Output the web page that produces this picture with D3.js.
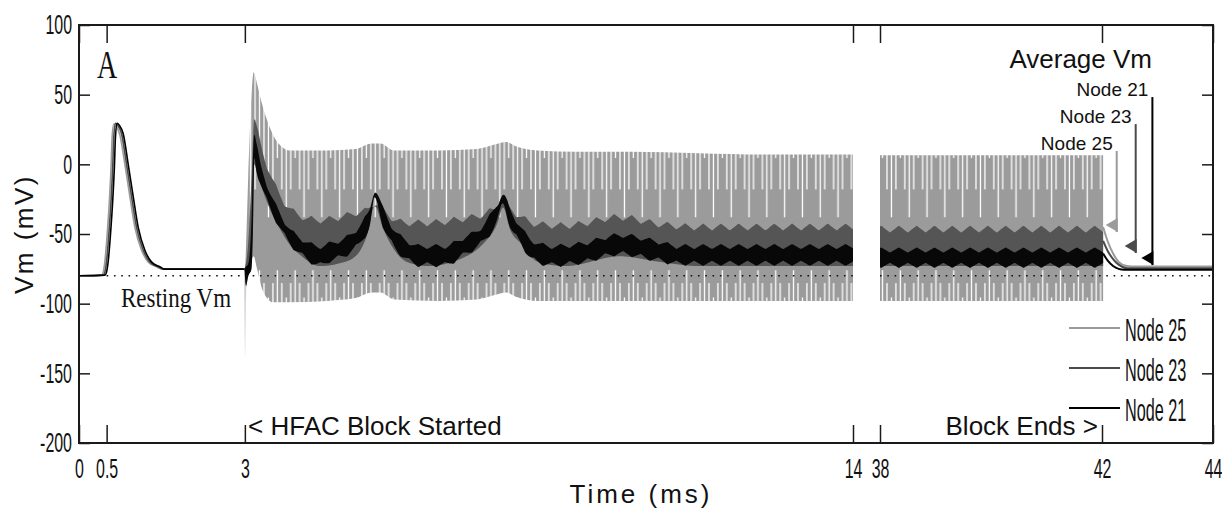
<!DOCTYPE html>
<html>
<head>
<meta charset="utf-8">
<script src="https://cdn.jsdelivr.net/npm/d3@7"></script>
<style>
body{margin:0;background:#fff;}
svg{display:block;}
text{font-family:"Liberation Sans",Arial,sans-serif;fill:#111;}
</style>
</head>
<body>
<div id="corpo"></div>
<script>
// ---- data ----
var restingVm = -80;
var yTicks = [-200, -150, -100, -50, 0, 50, 100];
var xTicksA = [0, 0.5, 3, 14];
var xTicksB = [38, 42, 44];
var nodeNames = ["Node 25", "Node 23", "Node 21"];

// single action potential before the block  [t (ms), Vm]
var ap25 = [[0,-80],[0.41,-79.5],[0.44,-77],[0.47,-69],[0.51,-50],[0.55,-26],[0.58,-2],[0.6,20],[0.63,29],[0.67,27.5],[0.74,21],[0.83,0],[0.92,-23],[1.01,-45],[1.13,-61.5],[1.25,-70],[1.4,-73.5],[1.49,-75],[3.0,-75]];
var ap23 = [[0,-80],[0.44,-79.5],[0.47,-77],[0.5,-69],[0.54,-50],[0.58,-26],[0.61,-2],[0.63,20],[0.66,29.5],[0.7,28],[0.77,22],[0.86,0],[0.95,-23],[1.04,-45],[1.16,-61.5],[1.28,-70],[1.43,-73.5],[1.52,-75.2],[3.0,-75.2]];
var ap21 = [[0,-80],[0.47,-79.5],[0.5,-77],[0.53,-69],[0.57,-50],[0.61,-26],[0.64,-2],[0.66,20],[0.69,29.5],[0.73,28],[0.8,22],[0.89,0],[0.98,-23],[1.07,-45],[1.19,-61.5],[1.31,-70],[1.46,-73.5],[1.55,-75.2],[3.0,-75.2]];

// HFAC envelopes, first window  [t, upper, lower]
var hf25 = [[2.995,-75,-76],[3.005,-74,-140],[3.02,-60,-95],[3.06,-10,-78],[3.11,40,-70],[3.16,66,-66],[3.22,58,-75],[3.3,45,-88],[3.4,32,-96],[3.5,22,-99],[3.63,14,-99],[3.8,10,-99],[4.5,10,-98],[5.0,11,-96],[5.3,15,-92],[5.45,15,-92],[5.7,10,-97],[6.5,10,-98],[7.2,11,-97],[7.5,14,-94],[7.73,16,-92],[7.9,13,-95],[8.3,10,-98],[9.0,9,-98],[10.0,9,-98],[11.2,8,-98],[12.5,7,-98],[14.0,7,-98]];
var hf23 = [[2.995,-75,-76],[3.05,-60,-80],[3.12,-10,-70],[3.17,32,0],[3.22,25,-6],[3.3,12,-16],[3.45,-6,-32],[3.63,-22,-46],[3.82,-32,-58],[4.0,-37,-65],[4.36,-40,-73],[4.72,-38,-71],[5.0,-35,-66],[5.2,-33,-52],[5.35,-28,-30],[5.5,-33,-46],[5.68,-39,-60],[5.93,-42,-70],[6.3,-42,-73],[6.95,-39,-67],[7.31,-36,-57],[7.56,-31,-43],[7.67,-28,-31],[7.8,-32,-47],[8.0,-38,-57],[8.3,-43,-70],[8.8,-44,-73],[9.78,-38,-66],[10.5,-43,-70],[11.2,-45,-73],[14.0,-45,-73]];
var hf21 = [[2.995,-75,-76],[3.02,-73,-88],[3.06,-70,-82],[3.12,-40,-76],[3.15,10,-40],[3.17,21,5],[3.21,14,-4],[3.27,2,-12],[3.36,-10,-22],[3.45,-20,-31],[3.63,-35,-45],[3.82,-47,-57],[4.0,-53,-64],[4.36,-59,-72],[4.54,-57,-69],[4.9,-51,-63],[5.14,-41,-53],[5.26,-32,-44],[5.35,-19,-25],[5.5,-32,-44],[5.68,-46,-58],[5.93,-55,-68],[6.17,-59,-72],[6.6,-59,-72],[6.95,-53,-65],[7.31,-44,-55],[7.56,-29,-41],[7.67,-22,-28],[7.8,-33,-45],[7.97,-44,-55],[8.2,-55,-68],[8.57,-59,-72],[9.1,-57,-70],[9.78,-51,-64],[10.4,-55,-68],[10.87,-59,-71],[12.0,-59,-71],[14.0,-59,-71]];

// HFAC envelopes, second window
var hf25b = [[38,6.5,-98],[42.02,6.5,-98]];
var hf23b = [[38,-46.5,-73],[42.02,-46.5,-73]];
var hf21b = [[38,-61.5,-72.5],[42.02,-61.5,-72.5]];

// recovery after the block ends
var tail25 = [[42.02,-45],[42.1,-55],[42.2,-64],[42.3,-70],[42.45,-73],[42.6,-73.4],[44,-73.4]];
var tail23 = [[42.02,-55],[42.1,-62],[42.2,-68],[42.3,-72],[42.45,-74.5],[44,-74.5]];
var tail21 = [[42.02,-64],[42.1,-69],[42.2,-73],[42.3,-75],[42.4,-75.6],[44,-75.6]];

var colors = {"Node 25": "#9b9b9b", "Node 23": "#4a4a4a", "Node 21": "#000"};

// ---- drawing ----
var width = 1222, height = 508;
var svg = d3.select("#corpo").append("svg")
    .attr("width", width)
    .attr("height", height);

var x1 = d3.scaleLinear().domain([0, 14]).range([79, 853]);
var x2 = d3.scaleLinear().domain([38, 44]).range([880, 1213]);
var y = d3.scaleLinear().domain([-200, 100]).range([443, 25]);

function band(x){
    return d3.area()
        .x(function(d){ return x(d[0]); })
        .y0(function(d){ return y(d[2]); })
        .y1(function(d){ return y(d[1]); })
        .curve(d3.curveMonotoneX);
}
function lineOf(x, col){
    return d3.line()
        .x(function(d){ return x(d[0]); })
        .y(function(d){ return y(d[col]); })
        .curve(d3.curveMonotoneX);
}

// the oscillation is aliased into a beat pattern; mimic it as texture
var period = 17.8;
function tri(px){
    var u = px / period - Math.floor(px / period);
    return 1 - 4 * Math.abs(u - 0.5);
}
// walk along an envelope curve and push it up/down with the beat texture
function edge(x, data, col, amp){
    var tmp = svg.append("path").attr("d", lineOf(x, col)(data)).attr("fill", "none");
    var node = tmp.node(), L = node.getTotalLength(), pts = [];
    for (var s = 0; s < L; s += 1){
        var q = node.getPointAtLength(s);
        pts.push([q.x, q.y + amp * tri(q.x)]);
    }
    var e = node.getPointAtLength(L);
    pts.push([e.x, e.y + amp * tri(e.x)]);
    tmp.remove();
    return pts;
}
function polygon(upper, lower){
    return "M" + upper.concat(lower.slice().reverse()).map(function(p){
        return p[0].toFixed(2) + "," + p[1].toFixed(2);
    }).join("L") + "Z";
}

// stripe texture for node 25
var defs = svg.append("defs");
var pat = defs.append("pattern")
    .attr("id", "stripes")
    .attr("patternUnits", "userSpaceOnUse")
    .attr("width", period)
    .attr("height", height);
pat.append("rect").attr("width", period).attr("height", height).attr("fill", colors["Node 25"]);
var fr = [1.0, 0.6, 0.15, 0.6];
fr.forEach(function(f, i){
    var xx = 0.8 + i * period / 4;
    pat.append("rect").attr("x", xx).attr("y", 0).attr("width", 1.3)
        .attr("height", y(12) + f * (y(-38) - y(12)))
        .attr("fill", "#fff");
    var fb = fr[(i + 2) % 4];
    var top = y(-99) - fb * (y(-99) - y(-76));
    pat.append("rect").attr("x", xx).attr("y", top).attr("width", 1.3)
        .attr("height", height - top)
        .attr("fill", "#fff");
});

// action potential
[[ap25, "Node 25"], [ap23, "Node 23"], [ap21, "Node 21"]].forEach(function(p){
    svg.append("path")
        .attr("d", lineOf(x1, 1)(p[0]))
        .attr("fill", "none")
        .attr("stroke", colors[p[1]])
        .attr("stroke-width", 1.6);
});

// HFAC bands
function drawBands(x, a, b, c){
    svg.append("path").attr("d", band(x)(a)).attr("fill", "url(#stripes)");
    svg.append("path")
        .attr("d", polygon(edge(x, b, 1, -3.5), edge(x, b, 2, 0)))
        .attr("fill", "#555");
    svg.append("path")
        .attr("d", polygon(edge(x, c, 1, -2.6), edge(x, c, 2, 2.6)))
        .attr("fill", "#080808");
}
drawBands(x1, hf25, hf23, hf21);
drawBands(x2, hf25b, hf23b, hf21b);

// recovery
[[tail25, "Node 25"], [tail23, "Node 23"], [tail21, "Node 21"]].forEach(function(p){
    svg.append("path")
        .attr("d", lineOf(x2, 1)(p[0]))
        .attr("fill", "none")
        .attr("stroke", colors[p[1]])
        .attr("stroke-width", 2);
});

// resting potential
[[x1, [0.5, 14]], [x2, [38, 44]]].forEach(function(s){
    svg.append("line")
        .attr("x1", s[0](s[1][0])).attr("x2", s[0](s[1][1]))
        .attr("y1", y(restingVm)).attr("y2", y(restingVm))
        .attr("stroke", "#111")
        .attr("stroke-width", 1.6)
        .attr("stroke-dasharray", "1.6,5.7");
});

// axes
var narrow = 0.57;
function styleAxis(g){
    g.select(".domain").remove();
    g.selectAll(".tick line").attr("stroke", "#1a1a1a").attr("stroke-width", 1.5);
    g.selectAll("text").attr("font-size", 28).attr("fill", "#111")
        .style("font-family", '"Liberation Sans", Arial, sans-serif');
}
var fmt = function(d){ return String(d); };

var gl = svg.append("g").attr("transform", "translate(79,0)")
    .call(d3.axisLeft(y).tickValues(yTicks).tickSize(-11).tickFormat(fmt));
styleAxis(gl);
gl.selectAll("text").attr("x", 0).attr("transform", "translate(-7,0) scale(" + narrow + ",1)");

svg.append("g").attr("transform", "translate(1213,0)")
    .call(d3.axisRight(y).tickValues(yTicks).tickSize(-11).tickFormat(""))
    .call(styleAxis);

[[x1, xTicksA], [x2, xTicksB]].forEach(function(s){
    var gb = svg.append("g").attr("transform", "translate(0,443)")
        .call(d3.axisBottom(s[0]).tickValues(s[1]).tickSize(-18).tickPadding(15).tickFormat(fmt));
    styleAxis(gb);
    gb.selectAll("text").attr("transform", "scale(" + narrow + ",1)");
    svg.append("g").attr("transform", "translate(0,25)")
        .call(d3.axisTop(s[0]).tickValues(s[1]).tickSize(-18).tickFormat(""))
        .call(styleAxis);
});

svg.append("rect")
    .attr("x", 79).attr("y", 25)
    .attr("width", 1213 - 79).attr("height", 443 - 25)
    .attr("fill", "none")
    .attr("stroke", "#1a1a1a")
    .attr("stroke-width", 2);

// axis titles
svg.append("text")
    .attr("x", 641).attr("y", 503)
    .attr("text-anchor", "middle")
    .attr("font-size", 26)
    .attr("letter-spacing", 3)
    .text("Time (ms)");
svg.append("text")
    .attr("transform", "translate(33,234) rotate(-90)")
    .attr("text-anchor", "middle")
    .attr("font-size", 26)
    .attr("letter-spacing", 2.5)
    .text("Vm (mV)");

// annotations
svg.append("text")
    .attr("transform", "translate(97,78) scale(0.7,1)")
    .attr("font-size", 40)
    .style("font-family", '"Liberation Serif", "Times New Roman", serif')
    .text("A");
svg.append("text")
    .attr("transform", "translate(121,307) scale(1,1.15)")
    .attr("font-size", 23)
    .style("font-family", '"Liberation Serif", "Times New Roman", serif')
    .text("Resting Vm");
svg.append("text")
    .attr("x", 248).attr("y", 435)
    .attr("font-size", 26)
    .text("< HFAC Block Started");
svg.append("text")
    .attr("x", 1098).attr("y", 435)
    .attr("text-anchor", "end")
    .attr("font-size", 26)
    .text("Block Ends >");
svg.append("text")
    .attr("x", 1152).attr("y", 68)
    .attr("text-anchor", "end")
    .attr("font-size", 26)
    .text("Average Vm");

// arrows to the recovering average Vm
var arrows = [
    {node: "Node 25", t: 42.265, top: 10.3, tip: -43.6},
    {node: "Node 23", t: 42.607, top: 29.6, tip: -58.6},
    {node: "Node 21", t: 42.908, top: 49, tip: -67.3}
];
arrows.forEach(function(a){
    var ax = x2(a.t), ay = y(a.tip), c = colors[a.node];
    svg.append("line")
        .attr("x1", ax).attr("x2", ax)
        .attr("y1", y(a.top) + 1).attr("y2", ay + 7)
        .attr("stroke", c).attr("stroke-width", 2);
    svg.append("path")
        .attr("d", "M" + (ax + 1) + "," + (ay - 7) + "L" + (ax + 1) + "," + (ay + 7) + "L" + (ax - 11) + "," + ay + "Z")
        .attr("fill", c);
    svg.append("text")
        .attr("x", ax - 4).attr("y", y(a.top))
        .attr("text-anchor", "end")
        .attr("font-size", 19)
        .text(a.node);
});

// legend
var legend = svg.append("g").attr("transform", "translate(1069,328)");
nodeNames.forEach(function(n, i){
    var g = legend.append("g").attr("transform", "translate(0," + (i * 40) + ")");
    g.append("line").attr("x1", 0).attr("x2", 51)
        .attr("stroke", colors[n]).attr("stroke-width", 2);
    g.append("text")
        .attr("transform", "translate(56,13) scale(0.56,1.05)")
        .attr("font-size", 29)
        .text(n);
});
</script>
</body>
</html>
